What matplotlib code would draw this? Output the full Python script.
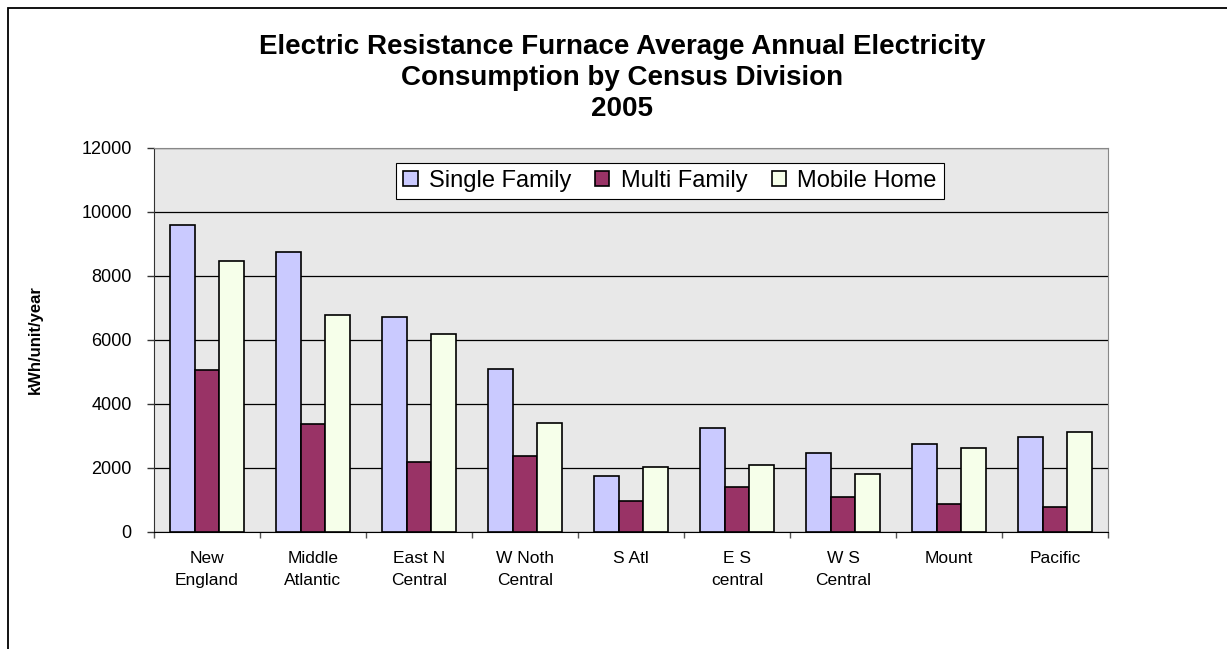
import numpy as np
import matplotlib.pyplot as plt
from matplotlib.patches import Rectangle

plt.rcParams["font.family"] = ["Liberation Sans", "DejaVu Sans"]

divisions = ["New\nEngland", "Middle\nAtlantic", "East N\nCentral", "W Noth\nCentral",
             "S Atl", "E S\ncentral", "W S\nCentral", "Mount", "Pacific"]
single_family = [9600, 8750, 6720, 5100, 1750, 3260, 2480, 2740, 2980]
multi_family = [5060, 3360, 2190, 2390, 970, 1410, 1100, 875, 770]
mobile_home = [8470, 6780, 6190, 3400, 2040, 2090, 1800, 2630, 3115]

series = [("Single Family", single_family, "#CACAFF"),
          ("Multi Family", multi_family, "#993366"),
          ("Mobile Home", mobile_home, "#F6FFEA")]

fig = plt.figure(figsize=(12.27, 6.49), dpi=100)
# chart area border: only the top and left edges fall inside the picture
fig.patches.append(Rectangle((8 / 1227, -0.1), 1.2, 1 - 8 / 649 + 0.1, transform=fig.transFigure,
                             fill=False, edgecolor="black", linewidth=1.3))

ax = fig.add_axes([154 / 1227, 1 - 532 / 649, 954 / 1227, 384 / 649])
ax.set_facecolor("#E8E8E8")

x = np.arange(len(divisions))
width = 0.23
for i, (name, values, color) in enumerate(series):
    ax.bar(x + (i - 1) * width, values, width, color=color, edgecolor="black",
           linewidth=1.2, label=name, zorder=3)

ax.set_xlim(-0.5, len(divisions) - 0.5)
ax.set_ylim(0, 12000)
ax.set_yticks(range(0, 12001, 2000))
ax.yaxis.grid(True, color="black", linewidth=0.9, zorder=1)
ax.set_axisbelow(True)
ax.tick_params(axis="y", labelsize=13, length=5, width=1, direction="out", pad=11, color="#333333")

ax.set_xticks(x)
ax.set_xticklabels(divisions, fontsize=12.5, linespacing=1.55)
ax.set_xticks(np.arange(-0.5, len(divisions)), minor=True)
ax.tick_params(axis="x", which="major", length=0, pad=14)
ax.tick_params(axis="x", which="minor", length=4.5, width=1, color="#555555")

for side in ["top", "right"]:
    ax.spines[side].set_color("#888888")
ax.spines["left"].set_color("#333333")
ax.spines["bottom"].set_color("black")

ax.set_ylabel("kWh/unit/year", fontsize=12, fontweight="bold", labelpad=28)

fig.text(0.507, 1 - 78 / 649, "Electric Resistance Furnace Average Annual Electricity\n"
         "Consumption by Census Division\n2005", ha="center", va="center",
         fontsize=20, fontweight="bold", linespacing=1.24)

leg = ax.legend(loc="center", bbox_to_anchor=(0.541, 0.915), ncol=3, fontsize=17,
                frameon=True, fancybox=False, edgecolor="black", framealpha=1,
                handlelength=0.6, handleheight=0.6, handletextpad=0.5, columnspacing=1.0,
                borderpad=0.3)
leg.get_frame().set_linewidth(0.8)

fig.savefig("out.png", dpi=100)
